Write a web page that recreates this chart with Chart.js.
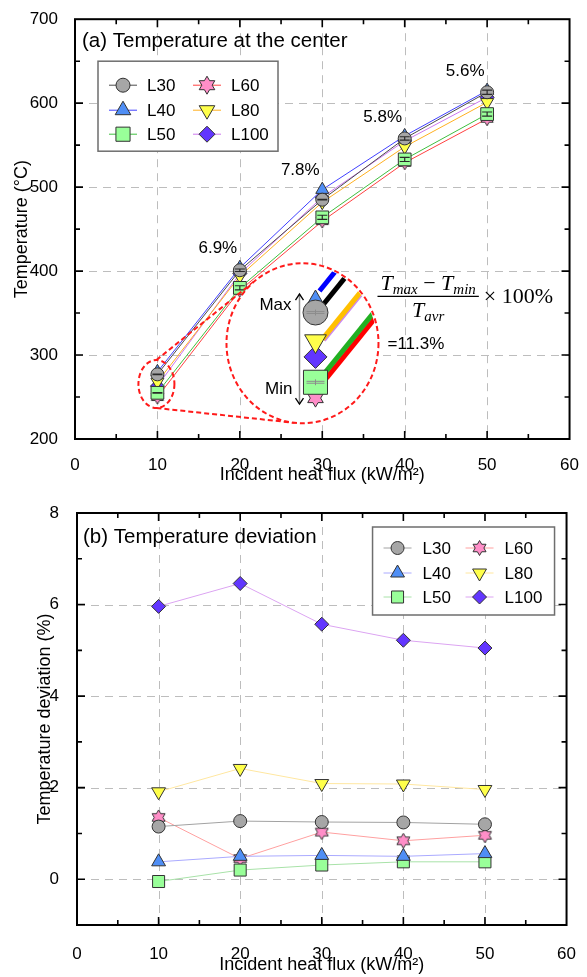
<!DOCTYPE html>
<html>
<head>
<meta charset="utf-8">
<script src="https://cdn.jsdelivr.net/npm/chart.js@4.4.1/dist/chart.umd.min.js"></script>
<style>
  html, body { margin: 0; padding: 0; background: #fff; }
  #wrap { position: relative; width: 587px; height: 977px; }
  canvas { position: absolute; left: 0; }
  #c1 { top: 0; }
  #c2 { top: 488px; }
</style>
</head>
<body>
<div id="wrap">
  <canvas id="c1" width="587" height="488"></canvas>
  <canvas id="c2" width="587" height="489"></canvas>
</div>
<script>
// ---- data ----
const heatFlux = [10, 20, 30, 40, 50];            // kW/m2
const seriesNames = ['L30', 'L40', 'L50', 'L60', 'L80', 'L100'];

// centre temperature (°C)
const tempL30  = [277, 401, 485,   558, 613];
const tempL40  = [280, 404, 497,   561, 615];
const tempL50  = [255, 380, 464,   533, 587];
const tempL60  = [250, 377, 459.5, 529, 581.5];
const tempL80  = [268, 394, 482,   548, 601];
const tempL100 = [263, 397, 488,   555, 607];

// scatter of the centre temperature (± °C)
const errL30 = [0.3, 1.5, 0.3, 2.0, 2.5];
const errL50 = [0.3, 2.5, 2.5, 2.5, 2.5];

// temperature deviation (%)
const devL30  = [1.15, 1.27, 1.25, 1.24, 1.20];
const devL40  = [0.38, 0.50, 0.52, 0.50, 0.56];
const devL50  = [-0.05, 0.20, 0.31, 0.38, 0.38];
const devL60  = [1.35, 0.45, 1.03, 0.84, 0.96];
const devL80  = [1.91, 2.42, 2.09, 2.08, 1.96];
const devL100 = [5.96, 6.46, 5.57, 5.22, 5.05];

// tick labels
const xTickLabels = [0, 10, 20, 30, 40, 50, 60];
const tempTickLabels = [200, 300, 400, 500, 600, 700];
const devTickLabels = [0, 2, 4, 6, 8];

const tempSeries = [tempL30, tempL40, tempL50, tempL60, tempL80, tempL100];
const devSeries = [devL30, devL40, devL50, devL60, devL80, devL100];

// ---- styles ----
const FONT = "'Liberation Sans', Arial, sans-serif";
const SERIF = "'Liberation Serif', 'DejaVu Serif', serif";
Chart.defaults.font.family = FONT;
Chart.defaults.color = '#000';

const markerStroke = '#333333';
const seriesStyle = {
  L30:  { shape: 'circle',       fill: '#a6a6a6', lineA: '#4a4a4a', lineB: '#a2a2a2', zoomLine: '#000000' },
  L40:  { shape: 'triangle',     fill: '#4f8ef5', lineA: '#4040ff', lineB: '#aaaaff', zoomLine: '#0000ff' },
  L50:  { shape: 'rect',         fill: '#99ff99', lineA: '#3fbf3f', lineB: '#a8e2a8', zoomLine: '#22b022' },
  L60:  { shape: 'hexagram',     fill: '#ff8ec8', lineA: '#ff4040', lineB: '#ffa0a0', zoomLine: '#ff0000' },
  L80:  { shape: 'triangleDown', fill: '#ffff4a', lineA: '#ffb020', lineB: '#ffe7a0', zoomLine: '#ffc000' },
  L100: { shape: 'rectRot',      fill: '#6236ff', lineA: '#cc77ee', lineB: '#dca4f2', zoomLine: '#cc88ee' }
};

function shapePath(ctx, shape, x, y, r) {
  ctx.beginPath();
  switch (shape) {
    case 'circle':
      ctx.arc(x, y, r, 0, Math.PI * 2);
      break;
    case 'triangle':
      ctx.moveTo(x, y - r);
      ctx.lineTo(x + 0.866 * r, y + 0.5 * r);
      ctx.lineTo(x - 0.866 * r, y + 0.5 * r);
      ctx.closePath();
      break;
    case 'triangleDown':
      ctx.moveTo(x, y + r);
      ctx.lineTo(x + 0.866 * r, y - 0.5 * r);
      ctx.lineTo(x - 0.866 * r, y - 0.5 * r);
      ctx.closePath();
      break;
    case 'rect': {
      const h = r * Math.SQRT1_2;
      ctx.rect(x - h, y - h, 2 * h, 2 * h);
      break;
    }
    case 'rectRot':
      ctx.moveTo(x, y - r);
      ctx.lineTo(x + r, y);
      ctx.lineTo(x, y + r);
      ctx.lineTo(x - r, y);
      ctx.closePath();
      break;
    case 'hexagram':
      for (let k = 0; k < 12; k++) {
        const a = -Math.PI / 2 + k * Math.PI / 6;
        const rr = k % 2 === 0 ? r : r / Math.sqrt(3);
        const px = x + rr * Math.cos(a), py = y + rr * Math.sin(a);
        if (k === 0) ctx.moveTo(px, py); else ctx.lineTo(px, py);
      }
      ctx.closePath();
      break;
  }
}

function drawMarker(ctx, name, x, y, r) {
  const st = seriesStyle[name];
  ctx.save();
  ctx.fillStyle = st.fill;
  ctx.strokeStyle = markerStroke;
  ctx.lineWidth = 1;
  shapePath(ctx, st.shape, x, y, r);
  ctx.fill();
  ctx.stroke();
  ctx.restore();
}

function starCanvas(R, fill) {
  const s = Math.ceil(2 * R + 4);
  const c = document.createElement('canvas');
  c.width = s; c.height = s;
  const g = c.getContext('2d');
  g.fillStyle = fill; g.strokeStyle = markerStroke; g.lineWidth = 1;
  shapePath(g, 'hexagram', s / 2, s / 2, R);
  g.fill(); g.stroke();
  return c;
}

function buildSets(values, lineKey, sizes) {
  return seriesNames.map((name, i) => {
    const st = seriesStyle[name];
    const r = sizes[st.shape];
    let pointStyle = st.shape, rot = 0;
    if (st.shape === 'triangleDown') { pointStyle = 'triangle'; rot = 180; }
    if (st.shape === 'hexagram') pointStyle = starCanvas(r, st.fill);
    return {
      label: name,
      data: heatFlux.map((x, j) => ({ x, y: values[i][j] })),
      borderColor: st[lineKey],
      borderWidth: 1,
      backgroundColor: st.fill,
      pointBackgroundColor: st.fill,
      pointBorderColor: markerStroke,
      pointBorderWidth: 1,
      pointRadius: r,
      pointHoverRadius: r,
      pointStyle,
      pointRotation: rot,
      tension: 0
    };
  });
}

// gridlines, frame and inward tick marks
function framePlugin(o) {
  const near = (a, b) => Math.abs(a - b) < 1e-9;
  return {
    id: 'frame',
    beforeDatasetsDraw(chart) {
      const { ctx, chartArea: a, scales: { x, y } } = chart;
      ctx.save();
      ctx.strokeStyle = '#bdbdbd';
      ctx.lineWidth = 1;
      ctx.setLineDash([8, 6]);
      o.xGrid.forEach(v => {
        const px = Math.round(x.getPixelForValue(v)) + 0.5;
        ctx.beginPath(); ctx.moveTo(px, a.top); ctx.lineTo(px, a.bottom); ctx.stroke();
      });
      o.yGrid.forEach(v => {
        const py = Math.round(y.getPixelForValue(v)) + 0.5;
        ctx.beginPath(); ctx.moveTo(a.left, py); ctx.lineTo(a.right, py); ctx.stroke();
      });
      ctx.restore();
    },
    afterDraw(chart) {
      const { ctx, chartArea: a, scales: { x, y } } = chart;
      ctx.save();
      ctx.strokeStyle = '#000';
      ctx.lineWidth = 2;
      ctx.strokeRect(a.left, a.top, a.right - a.left, a.bottom - a.top);
      ctx.lineWidth = 1.6;
      for (let v = x.min + o.xMinor; v < x.max - 1e-9; v += o.xMinor) {
        const major = near(Math.round(v / o.xMajor) * o.xMajor, v);
        const L = major ? 8 : 5;
        const px = x.getPixelForValue(v);
        ctx.beginPath();
        ctx.moveTo(px, a.bottom); ctx.lineTo(px, a.bottom - L);
        ctx.moveTo(px, a.top); ctx.lineTo(px, a.top + L);
        ctx.stroke();
      }
      for (let v = y.min + o.yMinor; v < y.max - 1e-9; v += o.yMinor) {
        const major = near(Math.round(v / o.yMajor) * o.yMajor, v);
        const L = major ? 8 : 5;
        const py = y.getPixelForValue(v);
        ctx.beginPath();
        ctx.moveTo(a.left, py); ctx.lineTo(a.left + L, py);
        ctx.moveTo(a.right, py); ctx.lineTo(a.right - L, py);
        ctx.stroke();
      }
      ctx.restore();
    }
  };
}

// error-bar caps over the uppermost markers of each group
const errorPlugin = {
  id: 'errCaps',
  afterDatasetsDraw(chart) {
    const { ctx, scales: { x, y } } = chart;
    ctx.save();
    ctx.strokeStyle = '#2a2a2a';
    ctx.lineWidth = 1.2;
    [[tempL30, errL30], [tempL50, errL50]].forEach(([vals, errs]) => {
      vals.forEach((v, j) => {
        const px = x.getPixelForValue(heatFlux[j]);
        const y0 = y.getPixelForValue(v + errs[j]), y1 = y.getPixelForValue(v - errs[j]);
        ctx.beginPath();
        ctx.moveTo(px, y0); ctx.lineTo(px, y1);
        ctx.moveTo(px - 5, y0); ctx.lineTo(px + 5, y0);
        ctx.moveTo(px - 5, y1); ctx.lineTo(px + 5, y1);
        ctx.stroke();
      });
    });
    ctx.restore();
  }
};

// two-column boxed legend with line + marker samples
function legendPlugin(o) {
  return {
    id: 'boxLegend',
    afterDraw(chart) {
      const { ctx, chartArea: a } = chart;
      const left = o.anchor === 'left' ? a.left + o.dx : a.right - o.dx - o.w;
      const top = a.top + o.dy;
      ctx.save();
      ctx.fillStyle = '#fff';
      ctx.fillRect(left, top, o.w, o.h);
      ctx.strokeStyle = '#6e6e6e';
      ctx.lineWidth = 1.5;
      ctx.strokeRect(left, top, o.w, o.h);
      ctx.font = '17px ' + FONT;
      ctx.textBaseline = 'middle';
      ctx.fillStyle = '#000';
      seriesNames.forEach((name, i) => {
        const col = Math.floor(i / 3), row = i % 3;
        const mx = left + o.col[col];
        const my = top + o.row[row];
        const st = seriesStyle[name];
        ctx.strokeStyle = st[o.lineKey];
        ctx.lineWidth = 1;
        ctx.beginPath(); ctx.moveTo(mx - 14, my); ctx.lineTo(mx + 14, my); ctx.stroke();
        drawMarker(ctx, name, mx, my, o.sizes[st.shape]);
        ctx.fillStyle = '#000';
        ctx.fillText(name, mx + o.textGap, my + 1);
      });
      ctx.restore();
    }
  };
}

function panelTitle(text, dx, dy) {
  return {
    id: 'panelTitle',
    afterDraw(chart) {
      const { ctx, chartArea: a } = chart;
      ctx.save();
      ctx.font = '20.5px ' + FONT;
      ctx.fillStyle = '#000';
      ctx.textBaseline = 'middle';
      ctx.fillText(text, a.left + dx, a.top + dy);
      ctx.restore();
    }
  };
}

function spreadAt(j) {
  const v = tempSeries.map(s => s[j]);
  const mx = Math.max(...v), mn = Math.min(...v);
  const avg = v.reduce((p, q) => p + q, 0) / v.length;
  return { mx, mn, avg, pct: (mx - mn) / avg * 100 };
}

// spread labels above each group and the magnified view of the 10 kW/m2 group
const spreadPlugin = {
  id: 'spread',
  afterDatasetsDraw(chart) {
    const { ctx, scales: { x, y } } = chart;
    ctx.save();
    ctx.font = '17px ' + FONT;
    ctx.fillStyle = '#000';
    ctx.textAlign = 'center';
    ctx.textBaseline = 'middle';
    for (let j = 1; j < heatFlux.length; j++) {
      const s = spreadAt(j);
      ctx.fillText(s.pct.toFixed(1) + '%', x.getPixelForValue(heatFlux[j]) - 22, y.getPixelForValue(s.mx) - 19);
    }
    ctx.restore();

    // magnified group at the first flux level
    const s0 = spreadAt(0);
    const sx = x.getPixelForValue(heatFlux[0]) - 1;
    const sy = y.getPixelForValue(s0.avg);
    const srx = 18, sry = 24;
    const cx = x.getPixelForValue(27.6), cy = y.getPixelForValue(314);
    const rx = 76, ry = 80;

    ctx.save();
    ctx.strokeStyle = '#ff1a1a';
    ctx.lineWidth = 2;
    ctx.setLineDash([5, 3]);
    ctx.beginPath(); ctx.ellipse(sx, sy, srx, sry, 0, 0, Math.PI * 2); ctx.stroke();
    // connectors: tangents from the small ellipse's top and bottom to the big one
    [[sx, sy - sry, -1], [sx, sy + sry, 1]].forEach(([px, py, sgn]) => {
      const ux = (px - cx) / rx, uy = (py - cy) / ry;
      const d = Math.hypot(ux, uy);
      const th = Math.atan2(uy, ux) - sgn * Math.acos(1 / d);
      const tx = cx + rx * Math.cos(th), ty = cy + ry * Math.sin(th);
      ctx.beginPath(); ctx.moveTo(px, py); ctx.lineTo(tx, ty); ctx.stroke();
    });
    ctx.beginPath(); ctx.ellipse(cx, cy, rx, ry, 0, 0, Math.PI * 2);
    ctx.fillStyle = '#fff';
    ctx.fill();
    ctx.stroke();
    ctx.restore();

    const mx = cx + 13;
    const k = 3.17;
    const my = v => cy + 5.7 - (v - s0.avg) * k;
    const val = name => tempSeries[seriesNames.indexOf(name)][0];

    // thick line stubs leaving the enlarged markers
    ctx.save();
    ctx.beginPath(); ctx.ellipse(cx, cy, rx - 1.5, ry - 1.5, 0, 0, Math.PI * 2); ctx.clip();
    const ang = 51 * Math.PI / 180;
    const ddx = Math.cos(ang) * 200, ddy = -Math.sin(ang) * 200;
    const stub = (name, ox, oy, w) => {
      const x0 = mx + ox, y0 = my(val(name)) + oy;
      ctx.strokeStyle = seriesStyle[name].zoomLine;
      ctx.lineWidth = w;
      ctx.beginPath(); ctx.moveTo(x0, y0); ctx.lineTo(x0 + ddx, y0 + ddy); ctx.stroke();
    };
    stub('L40', 4, -12, 5);
    stub('L30', 7, -7, 5);
    stub('L100', 9.3, -16, 2);
    stub('L80', 7, -2, 5);
    stub('L60', 11, -20, 5);
    stub('L50', 9, -9, 5);
    ctx.restore();

    // enlarged markers
    drawMarker(ctx, 'L60', mx, my(val('L60')), 9);
    drawMarker(ctx, 'L50', mx, my(val('L50')), 17);
    drawMarker(ctx, 'L100', mx, my(val('L100')), 11.5);
    drawMarker(ctx, 'L80', mx, my(val('L80')), 12.5);
    drawMarker(ctx, 'L40', mx, my(val('L40')), 13);
    drawMarker(ctx, 'L30', mx, my(val('L30')), 12.5);
    // the same error caps, magnified
    ctx.save();
    ctx.strokeStyle = '#8c8c8c';
    ctx.lineWidth = 1;
    [['L30', errL30], ['L50', errL50]].forEach(([name, errs]) => {
      const yy = my(val(name));
      const e = errs[0] * k;
      ctx.beginPath();
      ctx.moveTo(mx - 9, yy - e); ctx.lineTo(mx + 9, yy - e);
      ctx.moveTo(mx - 9, yy + e); ctx.lineTo(mx + 9, yy + e);
      ctx.moveTo(mx, yy - e - 2); ctx.lineTo(mx, yy + e + 2);
      ctx.stroke();
    });
    ctx.restore();

    // Max / Min arrow
    const ax = cx - 3;
    const ay0 = my(s0.mx) - 9, ay1 = my(s0.mn) + 6;
    ctx.save();
    ctx.strokeStyle = '#8a8a8a';
    ctx.lineWidth = 1.5;
    ctx.beginPath(); ctx.moveTo(ax, ay0); ctx.lineTo(ax, ay1); ctx.stroke();
    ctx.strokeStyle = '#000';
    ctx.lineWidth = 1.3;
    ctx.beginPath();
    ctx.moveTo(ax - 4, ay0 + 6); ctx.lineTo(ax, ay0); ctx.lineTo(ax + 4, ay0 + 6);
    ctx.moveTo(ax - 4, ay1 - 6); ctx.lineTo(ax, ay1); ctx.lineTo(ax + 4, ay1 - 6);
    ctx.stroke();
    ctx.font = '17px ' + FONT;
    ctx.fillStyle = '#000';
    ctx.textAlign = 'right';
    ctx.textBaseline = 'alphabetic';
    ctx.fillText('Max', ax - 8, ay0 + 16);
    ctx.fillText('Min', ax - 7, ay1 - 10);
    ctx.restore();

    // spread formula
    const fx = cx + 75, fy = cy - 47;
    const drawRun = (parts, x0, base) => {
      let xx = x0;
      parts.forEach(p => {
        ctx.font = p.f;
        ctx.fillText(p.t, xx, base + (p.dy || 0));
        xx += ctx.measureText(p.t).width;
      });
      return xx - x0;
    };
    const measureRun = parts => parts.reduce((w, p) => { ctx.font = p.f; return w + ctx.measureText(p.t).width; }, 0);
    const big = 'italic 22px ' + SERIF, sub = 'italic 15px ' + SERIF, up = '22px ' + SERIF;
    const num = [{ t: 'T', f: big }, { t: 'max', f: sub, dy: 4 }, { t: ' \u2212 ', f: up }, { t: 'T', f: big }, { t: 'min', f: sub, dy: 4 }];
    const den = [{ t: 'T', f: big }, { t: 'avr', f: sub, dy: 4 }];
    ctx.save();
    ctx.fillStyle = '#000';
    ctx.textAlign = 'left';
    ctx.textBaseline = 'alphabetic';
    const wn = measureRun(num);
    const barW = wn + 6;
    drawRun(num, fx + 3, fy - 6);
    const wd = measureRun(den);
    drawRun(den, fx + (barW - wd) / 2, fy + 21);
    ctx.strokeStyle = '#000';
    ctx.lineWidth = 1.2;
    ctx.beginPath(); ctx.moveTo(fx, fy); ctx.lineTo(fx + barW, fy); ctx.stroke();
    ctx.font = up;
    ctx.fillText('\u00d7 100%', fx + barW + 5, fy + 7);
    ctx.font = '17px ' + FONT;
    ctx.textBaseline = 'middle';
    ctx.fillText('=' + s0.pct.toFixed(1) + '%', cx + 85, cy + 1);
    ctx.restore();
  }
};

function axisTicks(labels) {
  return v => labels.some(l => Math.abs(l - v) < 1e-9) ? String(v) : '';
}

// ---- (a) temperature at the centre ----
new Chart(document.getElementById('c1'), {
  type: 'line',
  data: {
    datasets: buildSets(tempSeries, 'lineA',
      { circle: 6.5, triangle: 7.5, rect: 9, hexagram: 7, triangleDown: 7.5, rectRot: 7 })
  },
  options: {
    responsive: false,
    animation: false,
    devicePixelRatio: 1,
    layout: { padding: { left: 0, right: 17, top: 16, bottom: 0 } },
    plugins: { legend: { display: false }, tooltip: { enabled: false } },
    scales: {
      x: {
        type: 'linear', min: 0, max: 60,
        grid: { display: false }, border: { display: false },
        ticks: { stepSize: 5, autoSkip: false, maxRotation: 0, padding: 8,
                 font: { size: 17 }, callback: axisTicks(xTickLabels) },
        title: { display: true, text: 'Incident heat flux (kW/m\u00b2)', font: { size: 18 },
                 padding: { top: 0, bottom: 2 } },
        afterFit: s => { s.height = 49; }
      },
      y: {
        type: 'linear', min: 200, max: 700,
        grid: { display: false }, border: { display: false },
        ticks: { stepSize: 50, autoSkip: false, padding: 9,
                 font: { size: 17 }, callback: axisTicks(tempTickLabels) },
        title: { display: true, text: 'Temperature (\u00b0C)', font: { size: 18 },
                 padding: { top: 11, bottom: 0 } },
        afterFit: s => { s.width = 75; }
      }
    }
  },
  plugins: [
    framePlugin({ xMajor: 10, xMinor: 5, yMajor: 100, yMinor: 50,
                  xGrid: xTickLabels.slice(1, -1), yGrid: tempTickLabels.slice(1, -1) }),
    errorPlugin,
    spreadPlugin,
    panelTitle('(a) Temperature at the center', 7, 22),
    legendPlugin({ anchor: 'left', dx: 23, dy: 42, w: 180, h: 90,
                   col: [25, 109], row: [24, 49, 73], textGap: 24, lineKey: 'lineA',
                   sizes: { circle: 7, triangle: 9, rect: 10, hexagram: 9, triangleDown: 9, rectRot: 8 } })
  ]
});

// ---- (b) temperature deviation ----
new Chart(document.getElementById('c2'), {
  type: 'line',
  data: {
    datasets: buildSets(devSeries, 'lineB',
      { circle: 6.5, triangle: 8, rect: 8.5, hexagram: 7.5, triangleDown: 8, rectRot: 7 })
  },
  options: {
    responsive: false,
    animation: false,
    devicePixelRatio: 1,
    layout: { padding: { left: 0, right: 15, top: 25, bottom: 0 } },
    plugins: { legend: { display: false }, tooltip: { enabled: false } },
    scales: {
      x: {
        type: 'linear', min: 0, max: 60,
        grid: { display: false }, border: { display: false },
        ticks: { stepSize: 5, autoSkip: false, maxRotation: 0, padding: 11,
                 font: { size: 17 }, callback: axisTicks(xTickLabels) },
        title: { display: true, text: 'Incident heat flux (kW/m\u00b2)', font: { size: 18 },
                 padding: { top: 0, bottom: 1 } },
        afterFit: s => { s.height = 52; }
      },
      y: {
        type: 'linear', min: -1, max: 8,
        grid: { display: false }, border: { display: false },
        ticks: { stepSize: 1, autoSkip: false, padding: 10,
                 font: { size: 17 }, callback: axisTicks(devTickLabels) },
        title: { display: true, text: 'Temperature deviation (%)', font: { size: 18 },
                 padding: { top: 34, bottom: 0 } },
        afterFit: s => { s.width = 77; }
      }
    }
  },
  plugins: [
    framePlugin({ xMajor: 10, xMinor: 5, yMajor: 2, yMinor: 1,
                  xGrid: xTickLabels.slice(1, -1), yGrid: devTickLabels.slice(0, -1) }),
    panelTitle('(b) Temperature deviation', 6, 24),
    legendPlugin({ anchor: 'right', dx: 12, dy: 14, w: 182, h: 88,
                   col: [25, 107], row: [21, 46, 70], textGap: 25, lineKey: 'lineB',
                   sizes: { circle: 6.5, triangle: 8, rect: 8.5, hexagram: 7.5, triangleDown: 8, rectRot: 7 } })
  ]
});
</script>
</body>
</html>
